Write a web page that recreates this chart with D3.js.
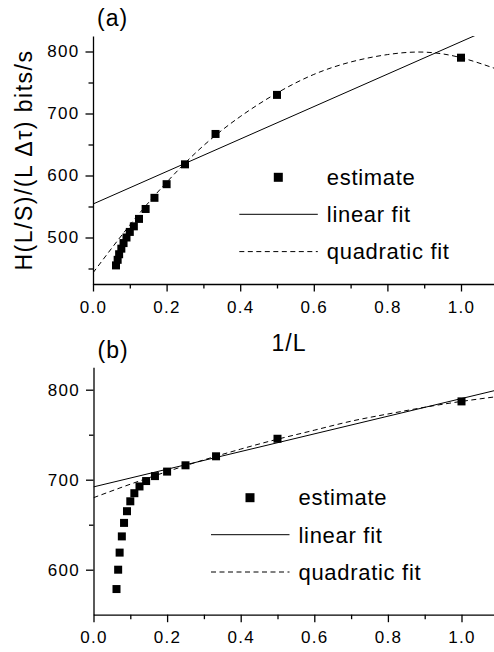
<!DOCTYPE html>
<html>
<head>
<meta charset="utf-8">
<script src="https://cdn.jsdelivr.net/npm/d3@7"></script>
<style>
  body { margin: 0; background: #fff; }
  svg { display: block; font-family: "Liberation Sans", Arial, Helvetica, sans-serif; }
</style>
</head>
<body>
<svg id="chart" width="494" height="652"></svg>
<script>
// 1/L for L = 1..16
const invL = [1.0, 0.5, 0.333, 0.25, 0.2, 0.167, 0.143, 0.125, 0.111, 0.1, 0.091, 0.083, 0.077, 0.071, 0.067, 0.0625];

// panel (a) estimates
const rateA = [790, 730, 667, 618, 586, 564, 546, 530, 518, 509, 500, 491, 482, 473, 464, 455];
// panel (b) estimates
const rateB = [787, 745.5, 726, 716, 709, 704, 698.5, 692.5, 685, 676, 665, 652, 637, 619, 600, 578.5];

// fit curves
const linX = [0, 1.1];
const linearA = [554, 842];
const linearB = [692, 800];
const quadX = [0, 0.1, 0.2, 0.3, 0.4, 0.5, 0.6, 0.7, 0.8, 0.9, 1.0, 1.1];
const quadA = [443, 520, 589, 648, 695, 733, 763, 783, 795, 799, 790, 771];
const quadB = [680, 695, 709, 722, 734, 745, 755, 765, 773, 780.5, 787, 792.5];

const xTicks = [0, 0.2, 0.4, 0.6, 0.8, 1.0];
const xMinor = [0.1, 0.3, 0.5, 0.7, 0.9, 1.1];
const yTicksA = [500, 600, 700, 800];
const yMinorA = [450, 550, 650, 750];
const yTicksB = [600, 700, 800];
const yMinorB = [650, 750];

const legendLabels = ["estimate", "linear fit", "quadratic fit"];

const svg = d3.select("#chart");

function drawPanel(p) {
    const g = svg.append("g");

    const x = d3.scaleLinear()
        .domain([0, 1.1])
        .range([p.left, p.left + 368 * 1.1]);

    const y = d3.scaleLinear()
        .domain(p.yDomain)
        .range([p.bottom, p.top]);

    const clipId = "clip-" + p.name;
    svg.append("clipPath")
        .attr("id", clipId)
        .append("rect")
        .attr("x", p.left)
        .attr("y", p.top)
        .attr("width", 494 - p.left)
        .attr("height", p.bottom - p.top);

    // X axis (major + minor)
    const xAxis = g.append("g")
        .attr("class", "x-axis")
        .attr("transform", `translate(0, ${p.bottom})`)
        .call(d3.axisBottom(x).tickValues(xTicks).tickSize(7.5).tickSizeOuter(0).tickFormat(d3.format(".1f")));
    xAxis.selectAll("text")
        .attr("y", 28.7)
        .attr("dy", 0)
        .attr("font-size", "17px")
        .attr("letter-spacing", "1.3px");
    g.append("g")
        .attr("transform", `translate(0, ${p.bottom})`)
        .call(d3.axisBottom(x).tickValues(xMinor).tickSize(4.5).tickSizeOuter(0).tickFormat(""))
        .select(".domain").remove();

    // Y axis (major + minor)
    const yAxis = g.append("g")
        .attr("class", "y-axis")
        .attr("transform", `translate(${p.left}, 0)`)
        .call(d3.axisLeft(y).tickValues(p.yTicks).tickSize(7.5).tickSizeOuter(0));
    yAxis.selectAll("text")
        .attr("x", -13.5)
        .attr("font-size", "17px")
        .attr("letter-spacing", "1.3px");
    g.append("g")
        .attr("transform", `translate(${p.left}, 0)`)
        .call(d3.axisLeft(y).tickValues(p.yMinor).tickSize(4.5).tickSizeOuter(0).tickFormat(""))
        .select(".domain").remove();

    g.selectAll(".domain, .tick line")
        .attr("stroke", "#000")
        .attr("stroke-width", 1.3);
    g.selectAll(".tick text").attr("fill", "#000").attr("font-family", null);

    // fits
    const line = d3.line()
        .x(d => x(d[0]))
        .y(d => y(d[1]));

    g.append("path")
        .datum(linX.map((v, i) => [v, p.linear[i]]))
        .attr("clip-path", `url(#${clipId})`)
        .attr("fill", "none")
        .attr("stroke", "#000")
        .attr("stroke-width", 1)
        .attr("d", line);

    g.append("path")
        .datum(quadX.map((v, i) => [v, p.quad[i]]))
        .attr("clip-path", `url(#${clipId})`)
        .attr("fill", "none")
        .attr("stroke", "#000")
        .attr("stroke-width", 1)
        .attr("stroke-dasharray", "5,3.5")
        .attr("d", line.curve(d3.curveNatural));

    // estimates
    g.selectAll("rect.pt")
        .data(invL.map((v, i) => [v, p.rate[i]]))
        .join("rect")
        .attr("class", "pt")
        .attr("x", d => x(d[0]) - 4)
        .attr("y", d => y(d[1]) - 4)
        .attr("width", 8)
        .attr("height", 8)
        .attr("fill", "#000");

    // legend
    const lg = g.append("g")
        .attr("font-size", "22px")
        .attr("letter-spacing", "0.7px");
    lg.append("rect")
        .attr("x", p.legX + 39 - 4.5)
        .attr("y", p.legY - 4.5)
        .attr("width", 9)
        .attr("height", 9)
        .attr("fill", "#000");
    lg.append("line")
        .attr("x1", p.legX).attr("x2", p.legX + 78.5)
        .attr("y1", p.legY + 37).attr("y2", p.legY + 37)
        .attr("stroke", "#000").attr("stroke-width", 1);
    lg.append("line")
        .attr("x1", p.legX).attr("x2", p.legX + 78.5)
        .attr("y1", p.legY + 74.3).attr("y2", p.legY + 74.3)
        .attr("stroke", "#000").attr("stroke-width", 1)
        .attr("stroke-dasharray", "5,3.5");
    lg.selectAll("text")
        .data(legendLabels)
        .join("text")
        .attr("x", p.legX + 87.5)
        .attr("y", (d, i) => p.legY + 7.7 + i * 37.2)
        .text(d => d);

    // panel label
    svg.append("text")
        .attr("x", p.left + 4)
        .attr("y", p.labelY)
        .attr("font-size", "23px")
        .attr("letter-spacing", "1px")
        .text(p.name === "a" ? "(a)" : "(b)");
}

drawPanel({
    name: "a", left: 93, top: 36, bottom: 284, yDomain: [425, 825],
    yTicks: yTicksA, yMinor: yMinorA,
    rate: rateA, linear: linearA, quad: quadA,
    legX: 239.3, legY: 177.3, labelY: 26
});

drawPanel({
    name: "b", left: 93.5, top: 367.2, bottom: 614.7, yDomain: [550, 825],
    yTicks: yTicksB, yMinor: yMinorB,
    rate: rateB, linear: linearB, quad: quadB,
    legX: 211, legY: 497.7, labelY: 358
});

// axis titles
svg.append("text")
    .attr("transform", "rotate(-90)")
    .attr("x", -160)
    .attr("y", 32)
    .attr("text-anchor", "middle")
    .attr("font-size", "23px")
    .attr("letter-spacing", "1.5px")
    .text("H(L/S)/(L \u0394\u03C4) bits/s");

svg.append("text")
    .attr("x", 289)
    .attr("y", 351)
    .attr("text-anchor", "middle")
    .attr("font-size", "23px")
    .attr("letter-spacing", "1px")
    .text("1/L");
</script>
</body>
</html>
